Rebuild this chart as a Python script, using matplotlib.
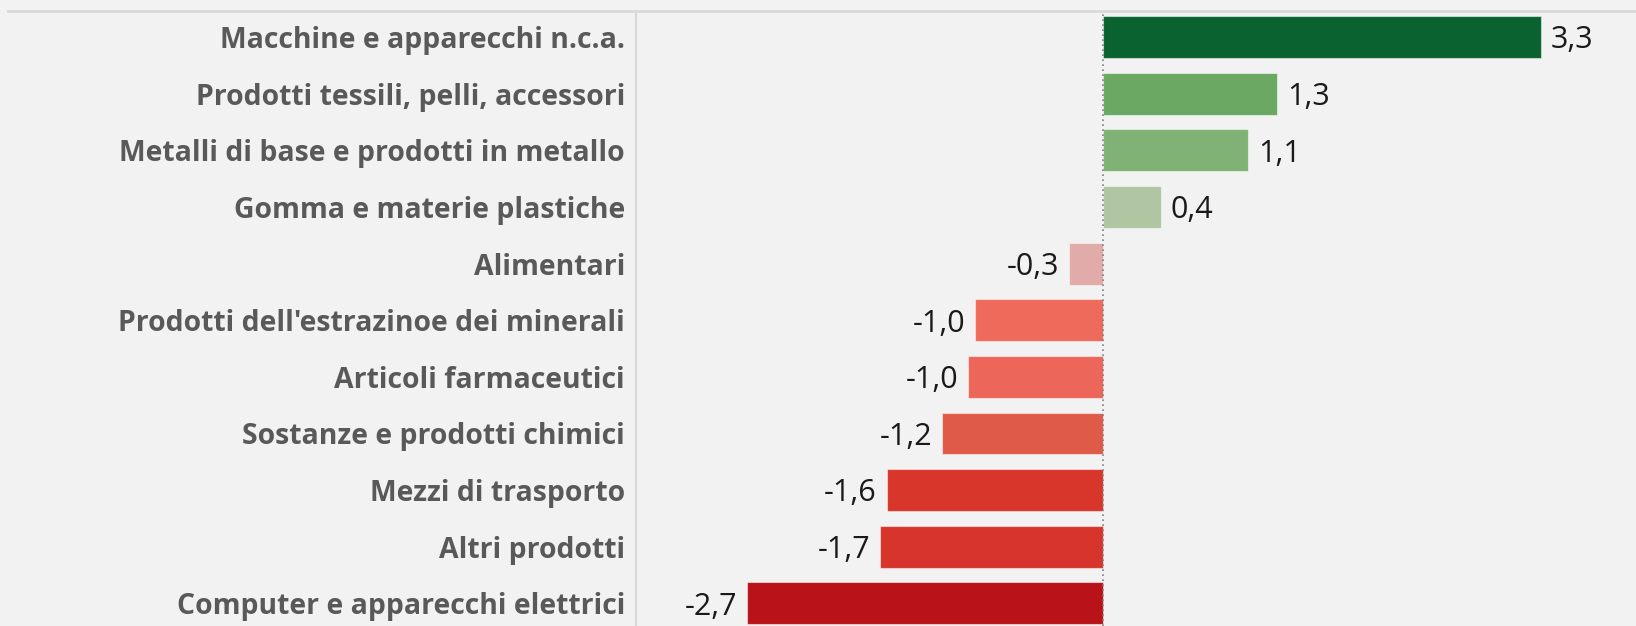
import matplotlib
matplotlib.use("Agg")
import matplotlib.pyplot as plt
from matplotlib.lines import Line2D

categories = [
    "Macchine e apparecchi n.c.a.",
    "Prodotti tessili, pelli, accessori",
    "Metalli di base e prodotti in metallo",
    "Gomma e materie plastiche",
    "Alimentari",
    "Prodotti dell'estrazinoe dei minerali",
    "Articoli farmaceutici",
    "Sostanze e prodotti chimici",
    "Mezzi di trasporto",
    "Altri prodotti",
    "Computer e apparecchi elettrici",
]
values = [3.32, 1.32, 1.10, 0.44, -0.26, -0.97, -1.02, -1.22, -1.64, -1.69, -2.70]
value_labels = ["3,3", "1,3", "1,1", "0,4", "-0,3", "-1,0", "-1,0", "-1,2", "-1,6", "-1,7", "-2,7"]
colors = ["#0a6230", "#6aa864", "#7fb274", "#b0c6a3", "#e0aba8", "#ee6b5c",
          "#ec6759", "#e05a48", "#d8362b", "#d7342b", "#b91219"]

BG = "#f2f2f2"
W, H = 1636, 626
fig = plt.figure(figsize=(W / 100, H / 100), dpi=100, facecolor=BG)
ax_left = 636 / W
ax_top = 1 - 11 / H
ax = fig.add_axes([ax_left, 0, 1 - ax_left, ax_top], facecolor=BG)

y = list(range(len(categories)))
ax.barh(y, values, height=0.74, color=colors, edgecolor=(1, 1, 1, 0.5), linewidth=0.8, zorder=2)
ax.set_xlim(-3.54, 4.04)
ax.set_ylim(10.4, -0.46)
ax.axvline(0, color="#7f7f7f", linestyle=(0, (1, 2)), linewidth=1.2, zorder=3)

for yi, v, lab in zip(y, values, value_labels):
    off = 0.075
    if v >= 0:
        ax.text(v + off, yi + 0.06, lab, ha="left", va="center", fontsize=22,
                family="Open Sans", color="#1a1a1a")
    else:
        ax.text(v - off, yi + 0.06, lab, ha="right", va="center", fontsize=22,
                family="Open Sans", color="#1a1a1a")

ax.set_xticks([])
ax.set_yticks(y)
ax.set_yticklabels(categories, fontsize=20.4, family="Open Sans", fontweight="bold", color="#595959")
ax.tick_params(axis="y", length=0, pad=8)
for s in ["top", "right", "bottom"]:
    ax.spines[s].set_visible(False)
ax.spines["left"].set_color("#d9d9d9")
ax.spines["left"].set_linewidth(1.5)

fig.add_artist(Line2D([8 / W, 1], [1 - 11 / H, 1 - 11 / H], transform=fig.transFigure,
                      color="#d9d9d9", linewidth=2))

fig.savefig("out.png", dpi=100, facecolor=BG)
